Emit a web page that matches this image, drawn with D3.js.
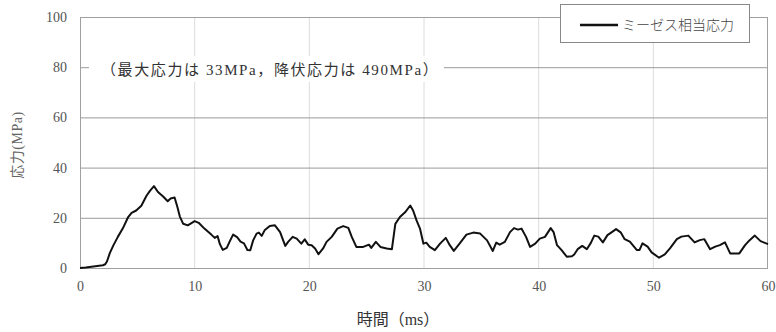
<!DOCTYPE html>
<html><head><meta charset="utf-8">
<script src="https://cdn.jsdelivr.net/npm/d3@7/dist/d3.min.js"></script>
<style>body{margin:0;background:#fff}svg{display:block}</style>
</head><body><svg id="c" width="776" height="332"></svg>
<script>
const timeMs = [0,0.5,1,1.5,2,2.2,2.35,2.6,2.9,3.3,3.75,4.2,4.5,4.9,5.35,5.8,6.1,6.45,6.8,7.25,7.65,7.9,8.25,8.5,8.7,9.0,9.4,10.0,10.35,10.85,11.45,11.75,12.0,12.2,12.45,12.8,13.05,13.35,13.7,14.0,14.3,14.6,14.85,15.1,15.4,15.6,15.85,16.1,16.55,17.0,17.45,17.9,18.15,18.55,18.9,19.3,19.6,19.9,20.2,20.5,20.8,21.2,21.5,21.95,22.45,22.95,23.4,23.7,24.1,24.7,25.2,25.4,25.8,26.2,26.75,27.2,27.5,27.9,28.35,28.8,29.05,29.35,29.65,29.95,30.2,30.5,30.95,31.4,31.9,32.25,32.6,33.1,33.7,34.3,34.9,35.5,36.0,36.3,36.6,37.05,37.5,37.85,38.2,38.5,38.9,39.25,39.7,40.1,40.55,41.05,41.3,41.6,42.0,42.45,42.9,43.1,43.4,43.8,44.2,44.55,44.85,45.2,45.6,46.0,46.35,46.75,47.15,47.5,47.95,48.55,48.8,49.05,49.5,49.85,50.5,51.0,51.45,52.05,52.45,53.05,53.6,54.05,54.45,54.95,55.4,55.8,56.25,56.7,57.5,58.0,58.4,58.85,59.35,60];
const stressMPa = [0,0.2,0.5,0.8,1.1,1.5,2.6,5.9,8.9,12.4,15.9,20.3,22,22.9,24.8,28.8,30.7,32.6,30.3,28.5,26.6,27.7,28.1,24.2,20.6,17.6,17,18.7,18,15.7,13.3,12,12.7,9.5,7.2,8,10.5,13.3,12.3,10.5,9.8,7.2,7.1,11,13.7,14.1,12.8,15,16.7,17,14.3,8.8,10.4,12.4,11.7,9.7,11.4,9.3,9.1,7.8,5.5,7.8,10.4,12.4,15.7,16.7,16,12.4,8.4,8.4,9.3,8,10.4,8.4,7.8,7.5,17.6,20.3,22.2,24.9,22.9,19,15.7,9.7,10.1,8.4,7.1,9.7,12,9.1,6.8,9.7,13.3,14.1,13.7,11,6.8,10.1,9.3,10.4,14.3,15.9,15.3,15.7,12.4,8.4,9.7,11.7,12.4,15.9,14.3,9.1,7.1,4.5,4.7,5.4,7.5,8.8,7.5,10,12.9,12.5,10.2,13.1,14.2,15.5,14.2,11.5,10.5,7.2,7.2,9.8,8.5,6.2,4.1,5.4,7.8,11.5,12.5,12.9,10.2,11.1,11.5,7.5,8.5,9.1,10.2,5.8,5.8,9.1,11.1,12.9,10.7,9.5];
const xTicks = [0,10,20,30,40,50,60];
const yTicks = [0,20,40,60,80,100];
const seriesName = "ミーゼス相当応力";
const xTitle = "時間（ms）";
const yTitle = "応力(MPa)";
const note = "（最大応力は 33MPa，降伏応力は 490MPa）";

const svg = d3.select("#c");
const L=80,R=768,T=17,B=268;
const x = d3.scaleLinear().domain([0,60]).range([L,R]);
const y = d3.scaleLinear().domain([0,100]).range([B,T]);
const serif = "'Liberation Serif','Noto Sans CJK JP',serif";

svg.append("g").selectAll("line").data(xTicks.filter(d=>d>0&&d<60)).join("line")
  .attr("x1",d=>x(d)).attr("x2",d=>x(d)).attr("y1",T).attr("y2",B)
  .attr("stroke","#dcdcdc").attr("stroke-width",1);
svg.append("g").selectAll("line").data(yTicks.filter(d=>d>0&&d<100)).join("line")
  .attr("x1",L).attr("x2",R).attr("y1",d=>y(d)+0.5).attr("y2",d=>y(d)+0.5)
  .attr("stroke","#9a9a9a").attr("stroke-width",1);
svg.append("rect").attr("x",L+0.5).attr("y",T+0.5).attr("width",R-L-1).attr("height",B-T)
  .attr("fill","none").attr("stroke","#a0a0a0").attr("stroke-width",1);

const xa = svg.append("g").attr("transform",`translate(0,${B})`)
  .call(d3.axisBottom(x).tickValues(xTicks).tickSize(0).tickPadding(13).tickFormat(d3.format("d")));
xa.select(".domain").remove();
xa.selectAll("text").attr("font-family",serif).attr("font-size",14).attr("fill","#555");
const ya = svg.append("g").attr("transform",`translate(${L},0)`)
  .call(d3.axisLeft(y).tickValues(yTicks).tickSize(0).tickPadding(13).tickFormat(d3.format("d")));
ya.select(".domain").remove();
ya.selectAll("text").attr("font-family",serif).attr("font-size",14).attr("fill","#555");

svg.append("rect").attr("x",89).attr("y",56).attr("width",355).attr("height",26).attr("fill","#fff");
svg.append("text").attr("x",101).attr("y",75).attr("font-family",serif).attr("font-size",15)
  .attr("letter-spacing","1.6px").attr("fill","#333").text(note);

const line = d3.line().x((d,i)=>x(timeMs[i])).y(d=>y(d));
svg.append("path").datum(stressMPa).attr("d",line).attr("fill","none")
  .attr("stroke","#111").attr("stroke-width",2).attr("stroke-linejoin","round");

svg.append("rect").attr("x",560.5).attr("y",4.5).attr("width",189).attr("height",38)
  .attr("fill","#fff").attr("stroke","#888");
svg.append("line").attr("x1",580).attr("x2",618).attr("y1",25).attr("y2",25)
  .attr("stroke","#111").attr("stroke-width",2.5);
svg.append("text").attr("x",622).attr("y",30).attr("font-family","'Noto Sans CJK JP'")
  .attr("font-weight",300).attr("font-size",14).attr("fill","#444").text(seriesName);

svg.append("text").attr("x",398).attr("y",325).attr("text-anchor","middle")
  .attr("font-family",serif).attr("font-size",16).attr("fill","#333").text(xTitle);
svg.append("text").attr("transform","translate(22,145) rotate(-90)").attr("text-anchor","middle")
  .attr("font-family",serif).attr("font-size",14).attr("letter-spacing","0.5px").attr("fill","#666").text(yTitle);
</script></body></html>
